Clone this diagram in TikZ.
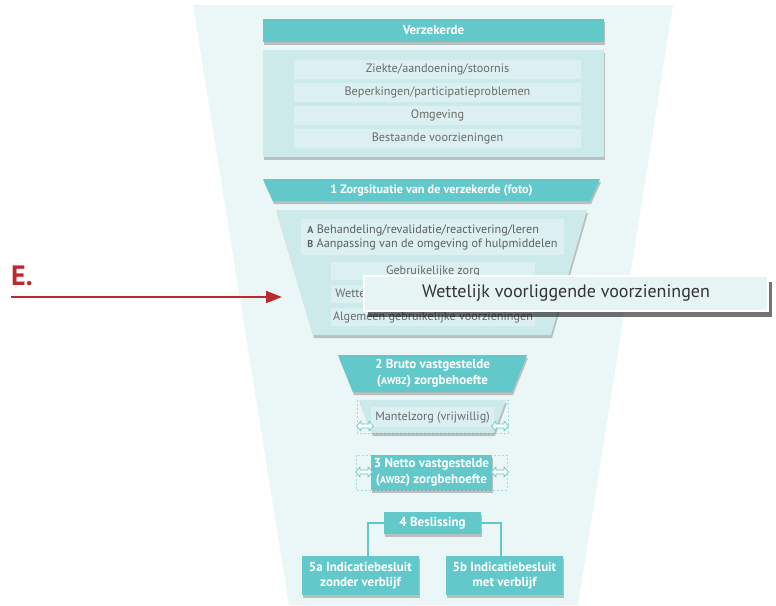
\documentclass[tikz,border=0pt]{standalone}
\usepackage{fontspec}
\setmainfont{PT Sans}
\usetikzlibrary{positioning,shadows,arrows.meta}
\definecolor{teal}{HTML}{63C8C9}
\definecolor{lichtbox}{HTML}{CCEAEA}
\definecolor{rij}{HTML}{DCF0F1}
\definecolor{trechter}{HTML}{EBF6F6}
\definecolor{grijs}{HTML}{6A6A6A}
\definecolor{rood}{HTML}{BE2830}
\newcommand{\klein}[1]{{\fontsize{10}{12}\selectfont #1}}
\tikzset{
	kop/.style={fill=teal,text=white,font=\fontsize{13}{15.5}\bfseries,inner sep=0pt,align=center},
	rijbox/.style={fill=rij,text=grijs,inner sep=0pt,minimum height=18},
	schaduw/.style={drop shadow={shadow xshift=1pt,shadow yshift=-3pt,opacity=0.22,fill=black}},
	pijltje/.style={draw=teal,fill=white,line width=0.7pt,line join=round},
	stippel/.style={draw=teal!60,dash pattern=on 2pt off 2pt,line width=0.4pt}
}
\begin{document}
\begin{tikzpicture}[x=1pt,y=-1pt,font=\fontsize{12.2}{14}\selectfont]
			\useasboundingbox (0,0) rectangle (776,605);
			% trechter
			\fill[trechter] (193,5) -- (673,5) -- (578,605) -- (289,605) -- cycle;

			\node[kop,schaduw,minimum width=341,minimum height=23] (verz) at (433.5,30.5) {Verzekerde};
			\node[fill=lichtbox,schaduw,minimum width=341,minimum height=107] (blok) at (433.5,103.5) {};
			\foreach \y/\t in {69.5/Ziekte\slash aandoening\slash stoornis,92.5/Beperkingen\slash participatieproblemen,115.5/Omgeving,138.5/Bestaande voorzieningen}
			\node[rijbox,minimum width=287,minimum height=19] at (437.5,\y) {\t};

			\fill[teal,schaduw] (263,179) -- (600,179) -- (590,201) -- (273,201) -- cycle;
			\node[text=white,font=\fontsize{12.2}{14}\bfseries] (zorg) at (431.5,190) {1 Zorgsituatie van de verzekerde (foto)};
			\fill[lichtbox,schaduw] (276,210) -- (587,210) -- (551,335) -- (313,335) -- cycle;
			\node[rijbox,minimum width=263,minimum height=36,align=left,text=grijs!90!black] (ab) at (432.5,237)
				{{\bfseries\klein{A}} Behandeling/revalidatie/reactivering/leren\\{\bfseries\klein{B}} Aanpassing van de omgeving of hulpmiddelen};
			\node[rijbox,minimum width=204] (gebr) at (433,271) {Gebruikelijke zorg};
			\node[rijbox,minimum width=204] (wett) at (433,294) {Wettelijk voorliggende voorzieningen};
			\node[rijbox,minimum width=204] (alg) at (433,317) {Algemeen gebruikelijke voorzieningen};

			\node[fill=trechter!70!rij,draw=white,line width=2pt,minimum width=404,minimum height=35,text=black!80,font=\fontsize{18}{21}\selectfont,
				drop shadow={shadow xshift=4pt,shadow yshift=-6pt,opacity=0.55,fill=black}] (uitlicht) at (566,293.5) {Wettelijk voorliggende voorzieningen};

			\node[text=rood,font=\fontsize{28}{30}\bfseries] (E) at (22,276) {E.};
			\coordinate (pstart) at (11,297);
			\coordinate (peind) at (282,297);
			\draw[rood,line width=2pt,-{Triangle[length=16pt,width=12pt]}] (pstart) -- (peind);

			\fill[teal,schaduw] (338,355) -- (527,355) -- (512,392) -- (353,392) -- cycle;
			\node[text=white,font=\fontsize{13}{16}\bfseries,align=center] (bruto) at (432.5,373.5) {2 Bruto vastgestelde\\(\klein{AWBZ}) zorgbehoefte};

			\draw[stippel] (357,400) rectangle (508,433);
			\fill[lichtbox,schaduw] (359,400) -- (506,400) -- (494,433) -- (372,433) -- cycle;
			\node[rijbox,minimum width=123,minimum height=20] (mantel) at (432.5,417) {Mantelzorg (vrijwillig)};

			\draw[stippel] (356,455) rectangle (507,490);
			\node[kop,schaduw,minimum width=121,minimum height=35,font=\fontsize{13}{16}\bfseries] (netto) at (431.5,472.5) {3 Netto vastgestelde\\(\klein{AWBZ}) zorgbehoefte};

			% dubbele pijltjes
			\foreach \px/\py in {365/426,500/426,364/472,500/472}
			\draw[pijltje,shift={(\px,\py)}] (-8.5,0) -- (-4,-5) -- (-4,-2) -- (4,-2) -- (4,-5) -- (8.5,0) -- (4,5) -- (4,2) -- (-4,2) -- (-4,5) -- cycle;

			\node[kop,schaduw,minimum width=97,minimum height=22] (besl) at (432.5,523) {4 Beslissing};
			\node[kop,schaduw,minimum width=117,minimum height=39,font=\fontsize{13}{14.5}\bfseries] (vijfa) at (360.5,575.5) {5a Indicatiebesluit\\zonder verblijf};
			\node[kop,schaduw,minimum width=117,minimum height=39,font=\fontsize{13}{14.5}\bfseries] (vijfb) at (504.5,575.5) {5b Indicatiebesluit\\met verblijf};
			\begin{scope}[teal,line width=1.8pt]
			\draw (besl.west) -| ([xshift=7.5pt]vijfa.north);
			\draw (besl.east) -| ([xshift=-3.5pt]vijfb.north);
			\end{scope}
\end{tikzpicture}
\end{document}
